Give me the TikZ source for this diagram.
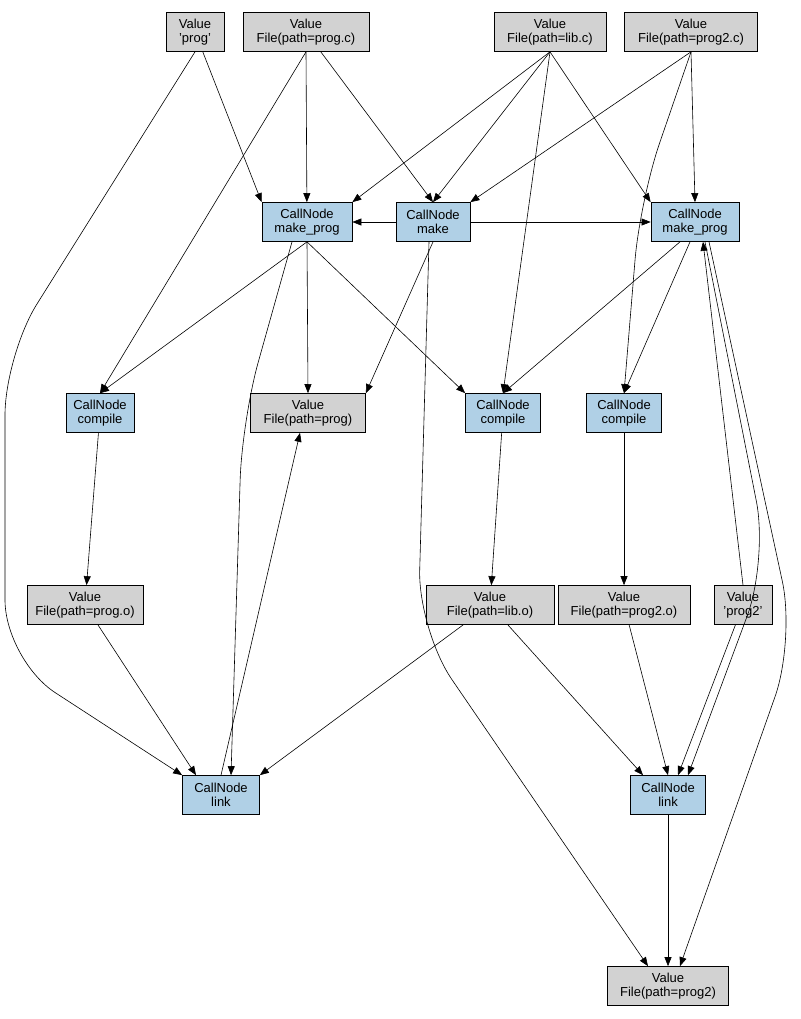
\documentclass[tikz,border=0pt]{standalone}
\usepackage{fontspec}
\setmainfont{Liberation Sans}
\usetikzlibrary{arrows.meta}
\begin{document}
\begin{tikzpicture}[x=1pt,y=-1pt,
  box/.style={draw,line width=0.7pt,align=center,minimum height=39pt,inner sep=1pt,font=\fontsize{13}{14.5}\selectfont},
  val/.style={box,fill=gray!35},
  call/.style={box,fill=cyan!20!blue!15!white,fill={rgb,255:red,176;green,208;blue,230}},
  e/.style={draw,line width=0.6pt,-{Triangle[length=9pt,width=7pt]},rounded corners=60pt}]
\useasboundingbox (0,0) rectangle (800,1019);
\node[val,minimum width=58pt] (vprog) at (195,32) {Value\\'prog'};
\node[val,minimum width=126pt] (vprogc) at (306,32) {Value\\File(path=prog.c)};
\node[val,minimum width=112pt] (vlibc) at (550,32) {Value\\File(path=lib.c)};
\node[val,minimum width=133pt] (vprog2c) at (691,32) {Value\\File(path=prog2.c)};
\node[call,minimum width=90pt] (mp1) at (307,222) {CallNode\\make\_prog};
\node[call,minimum width=74pt] (make) at (433,222) {CallNode\\make};
\node[call,minimum width=88pt] (mp2) at (695,222) {CallNode\\make\_prog};
\node[call,minimum width=68pt] (comp1) at (100,413) {CallNode\\compile};
\node[val,minimum width=115pt] (fprog) at (308,413) {Value\\File(path=prog)};
\node[call,minimum width=75pt] (comp2) at (503,413) {CallNode\\compile};
\node[call,minimum width=75pt] (comp3) at (624,413) {CallNode\\compile};
\node[val,minimum width=116pt] (progo) at (85,605) {Value\\File(path=prog.o)};
\node[val,minimum width=128pt] (libo) at (490,605) {Value\\File(path=lib.o)};
\node[val,minimum width=132pt] (prog2o) at (624,605) {Value\\File(path=prog2.o)};
\node[val,minimum width=58pt] (prog2s) at (743,605) {Value\\'prog2'};
\node[call,minimum width=77pt] (link1) at (221,795) {CallNode\\link};
\node[call,minimum width=75pt] (link2) at (668,795) {CallNode\\link};
\node[val,minimum width=121pt] (fprog2) at (668,986) {Value\\File(path=prog2)};
\coordinate (w1) at (5,355); \coordinate (w2) at (5,660);
\coordinate (w3) at (418,630);
\coordinate (w4) at (242,420);
\coordinate (w5) at (768,560);
\coordinate (w6) at (795,640);
\coordinate (w7) at (640,200);
\path[e] (vprog) -- (mp1.north west);
\path[e] (vprog.south) -- (w1) -- (w2) -- (link1.north west);
\path[e] (vprogc.south) -- (mp1);
\path[e] (vprogc) -- (make.north);
\path[e] (vprogc.south) -- (comp1.north);
\path[e] (vlibc.south) -- (mp1.north east);
\path[e] (vlibc.south) -- (make.north);
\path[e] (vlibc.south) -- (mp2.north west);
\path[e] (vlibc.south) -- (comp2.north);
\path[e] (vprog2c.south) -- (make.north east);
\path[e] (vprog2c.south) -- (mp2.north);
\path[e] (vprog2c.south) -- (w7) -- (comp3.north);
\path[e] (make) -- (mp1);
\path[e] (make) -- (mp2);
\path[e] (make.south) -- (fprog.north east);
\path[e] ([xshift=-4pt]make.south) -- (w3) -- ([xshift=-20pt]fprog2.north);
\path[e] (mp1.south) -- (comp1.north);
\path[e] (mp1.south) -- (fprog.north);
\path[e] (mp1.south) -- (comp2.north west);
\path[e] ([xshift=-15pt]mp1.south) -- (w4) -- ([xshift=10pt]link1.north);
\path[e] (link1.north) -- ([xshift=-8pt]fprog.south);
\path[e] ([xshift=-15pt]mp2.south) -- (comp2.north);
\path[e] ([xshift=-5pt]mp2.south) -- (comp3.north);
\path[e] ([xshift=10pt]mp2.south) -- (w5) -- ([xshift=20pt]link2.north);
\path[e] ([xshift=14pt]mp2.south) -- (w6) -- ([xshift=12pt]fprog2.north);
\path[e] (prog2s.north) -- ([xshift=8pt]mp2.south);
\path[e] (comp1) -- (progo);
\path[e] (comp2) -- (libo);
\path[e] (comp3) -- (prog2o);
\path[e] (progo) -- ([xshift=-25pt]link1.north);
\path[e] (libo) -- (link1.north east);
\path[e] (libo) -- ([xshift=-25pt]link2.north);
\path[e] (prog2o) -- (link2.north);
\path[e] (prog2s) -- ([xshift=10pt]link2.north);
\path[e] (link2) -- (fprog2);
\end{tikzpicture}
\end{document}
